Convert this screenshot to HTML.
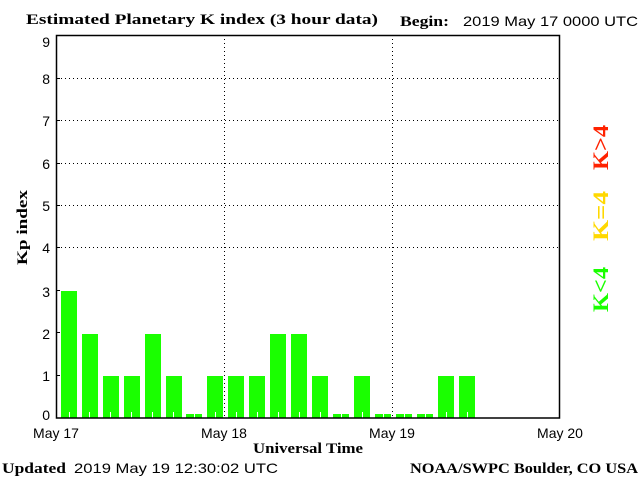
<!DOCTYPE html>
<html><head><style>
body{margin:0;background:#fff;}
svg{display:block;}
.s{font-family:"Liberation Sans",sans-serif;font-size:14px;fill:#000;}
.b{font-family:"Liberation Serif",serif;font-size:15px;font-weight:bold;fill:#000;}
</style></head><body>
<svg width="640" height="480" xmlns="http://www.w3.org/2000/svg">
<rect width="640" height="480" fill="#fff"/>
<g stroke="#000" stroke-width="1" stroke-dasharray="1,3">
<line x1="57" y1="78.5" x2="560" y2="78.5"/>
<line x1="57" y1="120.5" x2="560" y2="120.5"/>
<line x1="57" y1="163.5" x2="560" y2="163.5"/>
<line x1="57" y1="205.5" x2="560" y2="205.5"/>
<line x1="57" y1="247.5" x2="560" y2="247.5"/>
<line x1="224.5" y1="35" x2="224.5" y2="418"/>
<line x1="392.5" y1="35" x2="392.5" y2="418"/>
</g>
<g fill="#1aff00">
<rect x="61" y="291" width="16" height="127"/>
<rect x="82" y="334" width="16" height="84"/>
<rect x="103" y="376" width="16" height="42"/>
<rect x="124" y="376" width="16" height="42"/>
<rect x="145" y="334" width="16" height="84"/>
<rect x="166" y="376" width="16" height="42"/>
<rect x="186" y="414" width="16" height="4"/>
<rect x="207" y="376" width="16" height="42"/>
<rect x="228" y="376" width="16" height="42"/>
<rect x="249" y="376" width="16" height="42"/>
<rect x="270" y="334" width="16" height="84"/>
<rect x="291" y="334" width="16" height="84"/>
<rect x="312" y="376" width="16" height="42"/>
<rect x="333" y="414" width="16" height="4"/>
<rect x="354" y="376" width="16" height="42"/>
<rect x="375" y="414" width="16" height="4"/>
<rect x="396" y="414" width="16" height="4"/>
<rect x="417" y="414" width="16" height="4"/>
<rect x="438" y="376" width="16" height="42"/>
<rect x="459" y="376" width="16" height="42"/>
</g>
<g stroke="#fff" stroke-width="1">
<path d="M69.5 412V418M89.5 412V418M110.5 412V418M131.5 412V418M152.5 412V418M173.5 412V418M194.5 412V418M215.5 412V418M236.5 412V418M257.5 412V418M278.5 412V418M299.5 412V418M320.5 412V418M341.5 412V418M362.5 412V418M383.5 412V418M404.5 412V418M425.5 412V418M446.5 412V418M467.5 412V418"/>
</g>
<rect x="56.5" y="35.5" width="503" height="382.5" fill="none" stroke="#000" stroke-width="1.5"/>
<g stroke="#000"><path d="M56 78.5h4M56 120.5h4M56 163.5h4M56 205.5h4M56 247.5h4M56 290.5h4M56 332.5h4M56 375.5h4"/></g>
<g class="s" text-anchor="end">
<text x="50" y="47">9</text><text x="50" y="84">8</text><text x="50" y="126">7</text><text x="50" y="169">6</text><text x="50" y="211">5</text><text x="50" y="253">4</text><text x="50" y="297">3</text><text x="50" y="339">2</text><text x="50" y="381">1</text><text x="50" y="420">0</text>
</g>
<g class="s" text-anchor="middle">
<text x="56" y="438">May 17</text><text x="224" y="438">May 18</text><text x="392" y="438">May 19</text><text x="560" y="438">May 20</text>
</g>
<text class="b" x="253" y="453" textLength="110" lengthAdjust="spacingAndGlyphs">Universal Time</text>
<text class="b" x="26" y="24" textLength="352" lengthAdjust="spacingAndGlyphs">Estimated Planetary K index (3 hour data)</text>
<text class="b" x="400" y="26" textLength="49" lengthAdjust="spacingAndGlyphs">Begin:</text>
<text class="s" x="463" y="26" textLength="175" lengthAdjust="spacingAndGlyphs">2019 May 17 0000 UTC</text>
<text class="b" x="2" y="473" textLength="64" lengthAdjust="spacingAndGlyphs">Updated</text>
<text class="s" x="74" y="473" textLength="204" lengthAdjust="spacingAndGlyphs">2019 May 19 12:30:02 UTC</text>
<text class="b" x="410" y="473" textLength="228" lengthAdjust="spacingAndGlyphs">NOAA/SWPC Boulder, CO USA</text>
<text class="b" transform="translate(27,265) rotate(-90)" textLength="75" lengthAdjust="spacingAndGlyphs">Kp index</text>
<g font-family="Liberation Serif,serif" font-size="22" font-weight="bold">
<text transform="translate(608,170) rotate(-90)" fill="#ff2200" textLength="45" lengthAdjust="spacingAndGlyphs">K&gt;4</text>
<text transform="translate(608,241) rotate(-90)" fill="#ffd800" textLength="50" lengthAdjust="spacingAndGlyphs">K=4</text>
<text transform="translate(608,312) rotate(-90)" fill="#1aff00" textLength="45" lengthAdjust="spacingAndGlyphs">K&lt;4</text>
</g>
</svg>
</body></html>
